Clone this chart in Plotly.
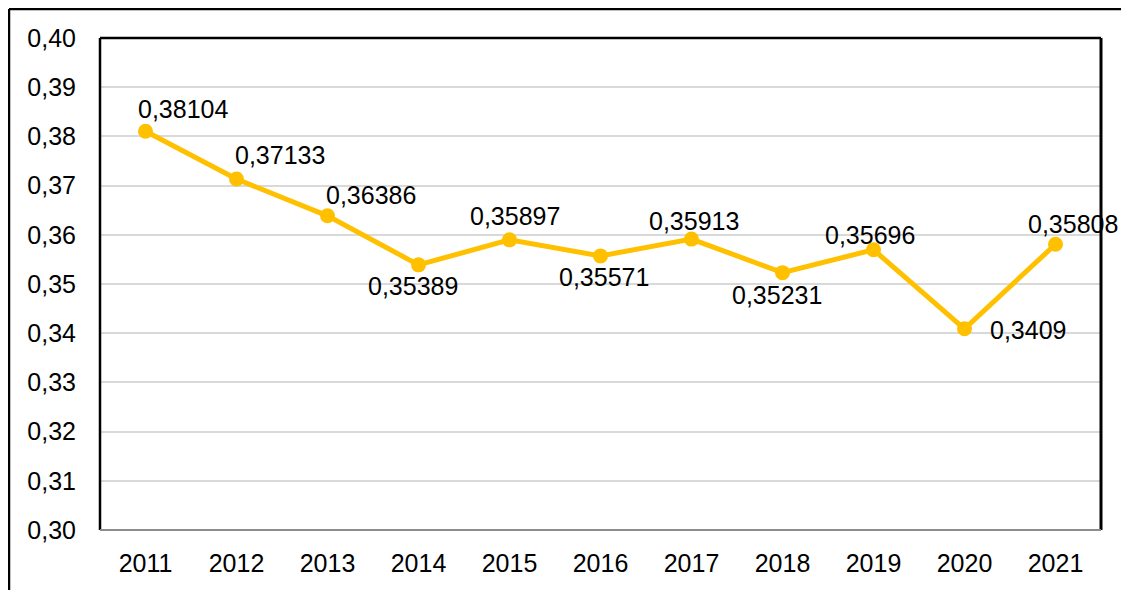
import plotly.graph_objects as go

years = ["2011", "2012", "2013", "2014", "2015", "2016", "2017", "2018", "2019", "2020", "2021"]
values = [0.38104, 0.37133, 0.36386, 0.35389, 0.35897, 0.35571, 0.35913, 0.35231, 0.35696, 0.3409, 0.35808]
labels = ["0,38104", "0,37133", "0,36386", "0,35389", "0,35897", "0,35571",
          "0,35913", "0,35231", "0,35696", "0,3409", "0,35808"]

# pixel offsets of each data label from its marker (as placed in the original)
label_dx = [37, 43, 43, -6, 5, 3, 2, -6, -4, 63, 17]
label_dy = [22, 24, 21, -21, 24, -21, 18, -22, 15, -1, 20]

GOLD = "#FFC000"
FONT = "Liberation Sans, Arial, sans-serif"
FS = 25

# the page adds an 8px body margin, so the plot box sits at 100..1101 x 38..530
L, T, W, H = 92, 30, 1001, 492

fig = go.Figure(
    go.Scatter(
        x=years,
        y=values,
        mode="lines+markers",
        line=dict(color=GOLD, width=5),
        marker=dict(color=GOLD, size=15),
        cliponaxis=False,
        showlegend=False,
    )
)

# annotation x as category index (a "2011" string would be read as a number)
for i, (v, txt, dx, dy) in enumerate(zip(values, labels, label_dx, label_dy)):
    fig.add_annotation(
        x=i, y=v, text=txt, showarrow=False,
        xshift=dx, yshift=dy,
        font=dict(size=FS, color="black", family=FONT),
    )

# plot area frame: black left/top/right, grey bottom
fig.add_shape(type="line", xref="paper", yref="paper", x0=0, x1=0, y0=0, y1=1,
              line=dict(color="black", width=2.5))
fig.add_shape(type="line", xref="paper", yref="paper", x0=0, x1=1, y0=1, y1=1,
              line=dict(color="black", width=2.5))
fig.add_shape(type="line", xref="paper", yref="paper", x0=1, x1=1, y0=0, y1=1,
              line=dict(color="black", width=3))
fig.add_shape(type="line", xref="paper", yref="paper", x0=0, x1=1, y0=0, y1=0,
              line=dict(color="#8c8c8c", width=2))

# outer chart border (only top and left are inside the picture)
ox = -(L - 1) / W
oy = 1 + (T - 1) / H
fig.add_shape(type="line", xref="paper", yref="paper",
              x0=ox, x1=ox, y0=-0.3, y1=oy,
              line=dict(color="black", width=2.5))
fig.add_shape(type="line", xref="paper", yref="paper",
              x0=ox, x1=1.1, y0=oy, y1=oy,
              line=dict(color="black", width=2.5))

fig.update_layout(
    width=1129,
    height=590,
    margin=dict(l=L, r=1129 - L - W, t=T, b=590 - T - H),
    paper_bgcolor="white",
    plot_bgcolor="white",
    separators=", ",
    font=dict(family=FONT, size=FS, color="black"),
)
fig.update_xaxes(
    type="category",
    range=[-0.5, len(years) - 0.5],
    showgrid=False,
    showline=False,
    ticks="",
    ticklabelstandoff=16,
    tickfont=dict(size=FS),
)
fig.update_yaxes(
    range=[0.30, 0.40],
    dtick=0.01,
    tickformat=".2f",
    showgrid=True,
    gridcolor="#d9d9d9",
    gridwidth=1.5,
    zeroline=False,
    showline=False,
    ticks="",
    ticklabelstandoff=23,
    tickfont=dict(size=FS),
)

fig.write_html("out.html")
